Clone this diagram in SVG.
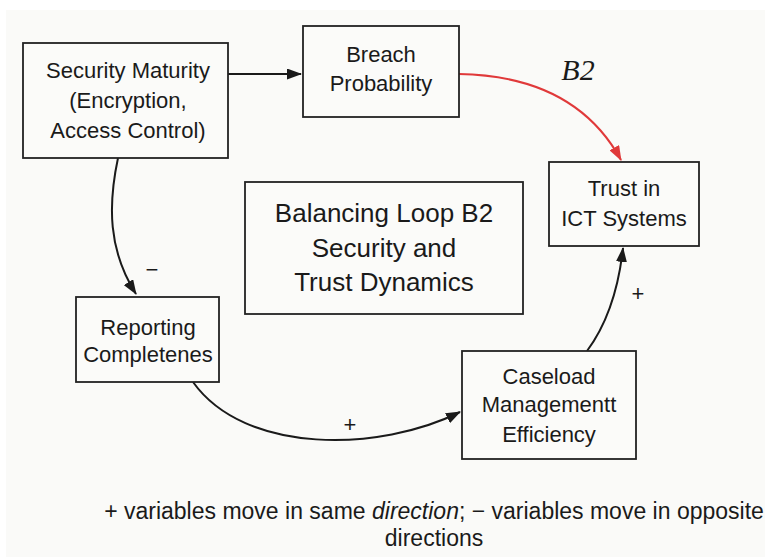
<svg xmlns="http://www.w3.org/2000/svg" width="765" height="557" viewBox="0 0 765 557">
  <style>
    .box { fill: #fbfbf9; stroke: #222; stroke-width: 1.8; }
    .lbl { font-family: "Liberation Sans", Arial, sans-serif; font-size: 22px; fill: #1a1a1a; text-anchor: middle; }
    .big { font-size: 26px; }
    .link { fill: none; stroke: #1a1a1a; stroke-width: 2; }
    .red { stroke: #e0393a; }
    .sign { font-family: "Liberation Sans", Arial, sans-serif; font-size: 22px; fill: #1a1a1a; text-anchor: middle; }
    .note { font-family: "Liberation Sans", Arial, sans-serif; font-size: 23px; fill: #1a1a1a; text-anchor: middle; }
  </style>
  <defs>
    <marker id="arrow" viewBox="0 0 15 11" refX="14" refY="5.5" markerWidth="15" markerHeight="11" markerUnits="userSpaceOnUse" orient="auto">
      <path d="M0,0 L15,5.5 L0,11 Z" fill="#1a1a1a"/>
    </marker>
    <marker id="arrowRed" viewBox="0 0 15 11" refX="14" refY="5.5" markerWidth="15" markerHeight="11" markerUnits="userSpaceOnUse" orient="auto">
      <path d="M0,0 L15,5.5 L0,11 Z" fill="#e0393a"/>
    </marker>
  </defs>

  <rect x="0" y="0" width="765" height="557" fill="#ffffff"/>
  <rect x="6" y="10" width="759" height="547" fill="#fafaf8"/>

  <g id="connectors">
    <path class="link" d="M228,74 L301,74" marker-end="url(#arrow)"/>
    <path class="link red" d="M459,74 Q575,76 621,160" marker-end="url(#arrowRed)"/>
    <path class="link" d="M118,158 C108,205 108,250 136,294" marker-end="url(#arrow)"/>
    <path class="link" d="M193,382 C245,455 380,452 460,412" marker-end="url(#arrow)"/>
    <path class="link" d="M587,351 Q616,312 623,248" marker-end="url(#arrow)"/>
    <text class="sign" x="152" y="277">−</text>
    <text class="sign" x="350" y="432">+</text>
    <text class="sign" x="638" y="301">+</text>
    <text x="578" y="80" font-family="'Liberation Serif', 'Times New Roman', serif" font-style="italic" font-size="30" fill="#1a1a1a" text-anchor="middle">B2</text>
  </g>

  <g id="security-maturity">
    <rect class="box" x="23" y="43" width="205" height="115"/>
    <text class="lbl" x="128" y="78">Security Maturity</text>
    <text class="lbl" x="128" y="108">(Encryption,</text>
    <text class="lbl" x="128" y="138">Access Control)</text>
  </g>

  <g id="breach-probability">
    <rect class="box" x="303" y="26" width="156" height="91"/>
    <text class="lbl" x="381" y="62">Breach</text>
    <text class="lbl" x="381" y="91">Probability</text>
  </g>

  <g id="trust-ict">
    <rect class="box" x="549" y="162" width="150" height="84"/>
    <text class="lbl" x="624" y="196">Trust in</text>
    <text class="lbl" x="624" y="226">ICT Systems</text>
  </g>

  <g id="loop-title">
    <rect class="box" x="245" y="182" width="278" height="132"/>
    <text class="lbl big" x="384" y="222">Balancing Loop B2</text>
    <text class="lbl big" x="384" y="257">Security and</text>
    <text class="lbl big" x="384" y="291">Trust Dynamics</text>
  </g>

  <g id="reporting-completeness">
    <rect class="box" x="76" y="297" width="143" height="85"/>
    <text class="lbl" x="148" y="335">Reporting</text>
    <text class="lbl" x="148" y="362">Completenes</text>
  </g>

  <g id="caseload-efficiency">
    <rect class="box" x="462" y="351" width="174" height="108"/>
    <text class="lbl" x="549" y="384">Caseload</text>
    <text class="lbl" x="549" y="412">Managementt</text>
    <text class="lbl" x="549" y="442">Efficiency</text>
  </g>

  <g id="legend">
    <text class="note" x="434" y="519">+ variables move in same <tspan font-style="italic">direction</tspan>; − variables move in opposite</text>
    <text class="note" x="434" y="546">directions</text>
  </g>
</svg>
